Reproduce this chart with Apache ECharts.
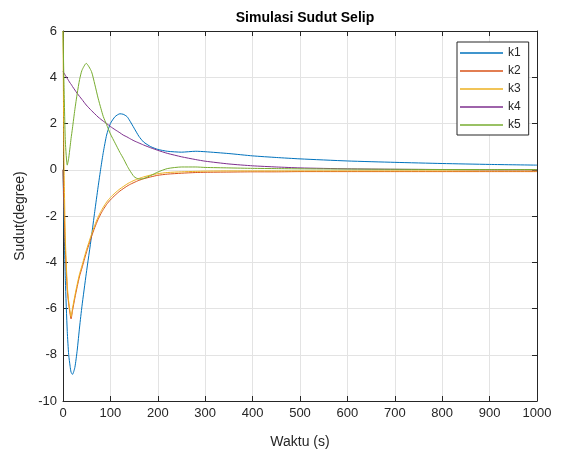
<!DOCTYPE html>
<html>
<head>
    <meta charset="utf-8">
    <script src="https://cdn.jsdelivr.net/npm/echarts@6/dist/echarts.min.js"></script>
</head>
<body style="margin:0">
    <div id="main" style="width: 561px;height:454px;"></div>

<script type="text/javascript">
    // waktu (s) dan sudut selip tiap kasus
    var waktu = [0, 2, 5, 9, 12, 15, 17, 20, 25, 30, 35, 40, 49, 60, 67, 74, 80, 85, 92, 100,
        110, 120, 127, 135, 140, 150, 160, 170, 185, 200, 220, 250, 280, 300, 350, 400, 450, 500,
        600, 700, 800, 900, 1000];

    var k1 = [0, -2.2, -4.8, -7.0, -8.0, -8.5, -8.75, -8.85, -8.55, -7.8, -6.8, -5.9, -4.5, -2.9, -1.8,
        -0.75, 0.1, 0.75, 1.5, 2.0, 2.3, 2.42, 2.4, 2.3, 2.15, 1.8, 1.45, 1.2, 1.0, 0.88, 0.8, 0.76,
        0.8, 0.78, 0.7, 0.6, 0.53, 0.47, 0.38, 0.32, 0.27, 0.23, 0.2];

    var k2 = [0, -1.5, -3.5, -5.2, -5.8, -6.25, -6.45, -6.1, -5.55, -5.05, -4.6, -4.25, -3.6, -2.9, -2.5,
        -2.15, -1.9, -1.72, -1.5, -1.3, -1.1, -0.92, -0.82, -0.71, -0.65, -0.55, -0.46, -0.39, -0.31,
        -0.24, -0.19, -0.15, -0.12, -0.11, -0.1, -0.09, -0.09, -0.08, -0.08, -0.08, -0.08, -0.08, -0.08];

    var k3 = [6, 0.5, -3.0, -5.0, -5.7, -6.15, -6.35, -6.0, -5.45, -4.95, -4.5, -4.15, -3.5, -2.8, -2.4,
        -2.05, -1.8, -1.62, -1.4, -1.2, -1.0, -0.83, -0.73, -0.62, -0.56, -0.46, -0.38, -0.31, -0.23,
        -0.17, -0.12, -0.09, -0.07, -0.06, -0.05, -0.05, -0.05, -0.05, -0.05, -0.05, -0.05, -0.05, -0.05];

    var k4 = [4.25, 4.18, 4.08, 3.95, 3.85, 3.75, 3.7, 3.6, 3.45, 3.3, 3.17, 3.04, 2.8, 2.56, 2.42,
        2.28, 2.18, 2.1, 2.0, 1.87, 1.73, 1.6, 1.5, 1.42, 1.36, 1.25, 1.16, 1.07, 0.95, 0.84, 0.71,
        0.56, 0.44, 0.37, 0.25, 0.17, 0.12, 0.08, 0.04, 0.02, 0.01, 0, 0];

    var k5 = [6, 3.8, 1.2, 0.2, 0.5, 1.0, 1.35, 1.8, 2.6, 3.3, 3.9, 4.3, 4.6, 4.25, 3.7,
        3.1, 2.65, 2.3, 1.95, 1.55, 1.15, 0.75, 0.5, 0.18, 0.0, -0.3, -0.4, -0.38, -0.25, -0.1, 0.05,
        0.12, 0.12, 0.1, 0.08, 0.06, 0.05, 0.04, 0.03, 0.02, 0.01, 0.01, 0.01];

    var nama = ['k1', 'k2', 'k3', 'k4', 'k5'];
    var warna = ['#0072BD', '#D95319', '#EDB120', '#7E2F8E', '#77AC30'];
    var semua = [k1, k2, k3, k4, k5];

    var myChart = echarts.init(document.getElementById('main'));

    var teks = '#262626';
    var huruf = 'Liberation Sans, Arial, sans-serif';

    var series = [];
    for (var i = 0; i < semua.length; i++) {
        var titik = [];
        for (var j = 0; j < waktu.length; j++) {
            titik.push([waktu[j], semua[i][j]]);
        }
        series.push({
            name: nama[i],
            type: 'line',
            data: titik,
            showSymbol: false,
            smooth: 0.2,
            lineStyle: { color: warna[i], width: 1 },
            itemStyle: { color: warna[i] }
        });
    }

    // sumbu bantu di atas dan kanan supaya kotak seperti matlab
    var tickDalam = { show: true, inside: true, length: 5, lineStyle: { color: teks } };
    var garisSumbu = { show: true, onZero: false, lineStyle: { color: teks } };

    var option = {
        backgroundColor: '#fff',
        animation: false,
        textStyle: { fontFamily: huruf },
        title: {
            text: 'Simulasi Sudut Selip',
            left: 300,
            top: 6,
            textAlign: 'center',
            textStyle: { fontSize: 14, fontWeight: 'bold', color: '#000', fontFamily: huruf }
        },
        legend: {
            orient: 'vertical',
            left: 457,
            top: 42,
            data: nama,
            icon: 'rect',
            itemWidth: 43,
            itemHeight: 1.5,
            itemGap: 4,
            padding: [4, 8, 3, 3],
            borderColor: '#262626',
            borderWidth: 1,
            backgroundColor: '#fff',
            textStyle: { fontSize: 12, lineHeight: 14, color: teks, fontFamily: huruf }
        },
        grid: { left: 63, right: 24, top: 31, bottom: 48 },
        xAxis: [{
            type: 'value',
            min: 0, max: 1000, interval: 100,
            name: 'Waktu (s)',
            nameLocation: 'middle',
            nameGap: 34,
            nameTextStyle: { fontSize: 14, color: teks },
            axisLine: garisSumbu,
            axisTick: tickDalam,
            axisLabel: { fontSize: 13, color: teks, margin: 6, formatter: function (v) { return String(v); } },
            splitLine: { show: true, lineStyle: { color: '#e3e3e3' } }
        }, {
            type: 'value', position: 'top',
            min: 0, max: 1000, interval: 100,
            axisLine: garisSumbu,
            axisTick: tickDalam,
            axisLabel: { show: false },
            splitLine: { show: false }
        }],
        yAxis: [{
            type: 'value',
            min: -10, max: 6, interval: 2,
            name: 'Sudut(degree)',
            nameLocation: 'middle',
            nameGap: 33,
            nameTextStyle: { fontSize: 14, color: teks },
            axisLine: garisSumbu,
            axisTick: tickDalam,
            axisLabel: { fontSize: 13, color: teks, margin: 6 },
            splitLine: { show: true, lineStyle: { color: '#e3e3e3' } }
        }, {
            type: 'value', position: 'right',
            min: -10, max: 6, interval: 2,
            axisLine: garisSumbu,
            axisTick: tickDalam,
            axisLabel: { show: false },
            splitLine: { show: false }
        }],
        series: series
    };

    myChart.setOption(option);
</script>
</body>
</html>
